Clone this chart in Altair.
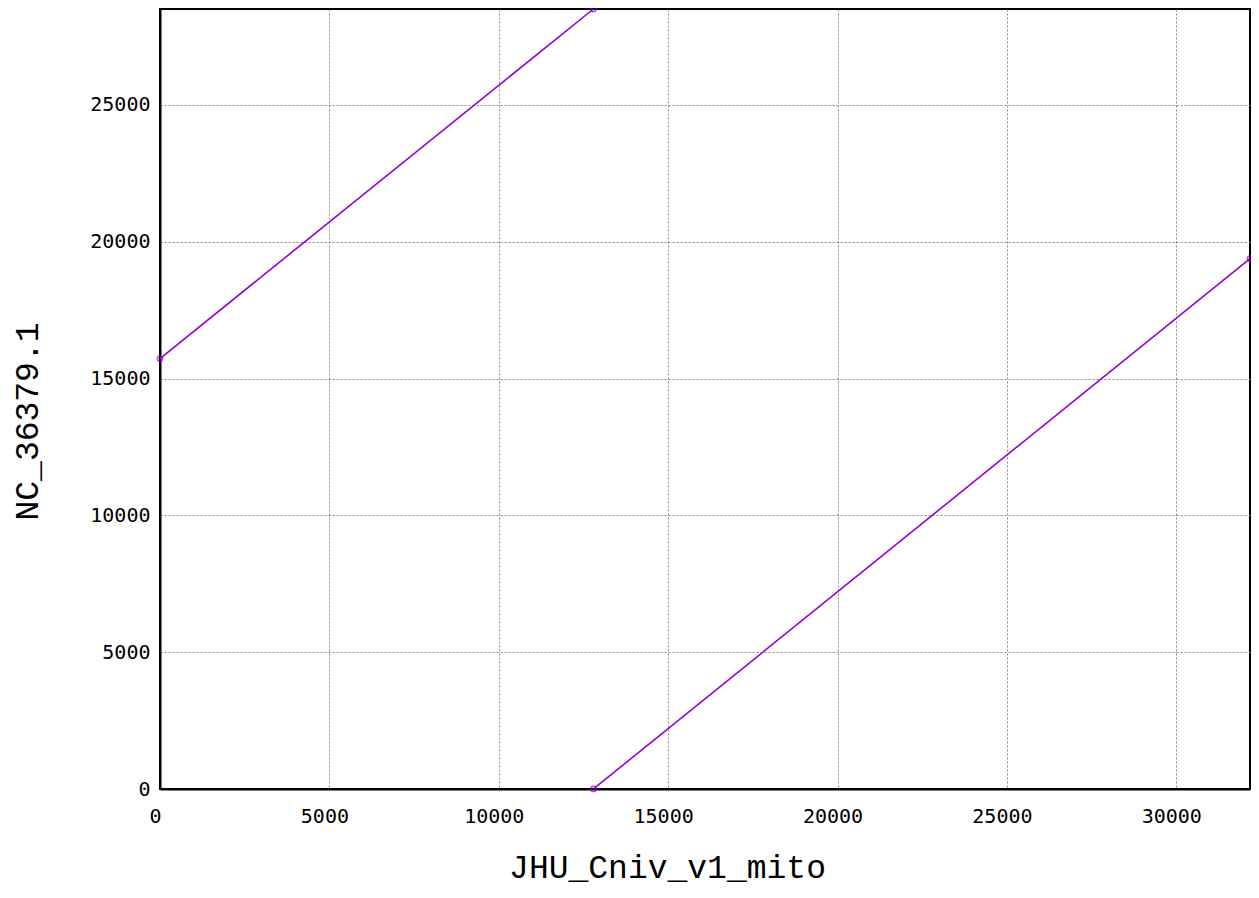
import altair as alt
import pandas as pd

# alignment segments (reference position vs query position)
segment = ["a", "a", "b", "b"]
ref_pos = [1, 12794, 12794, 32176]
qry_pos = [15730, 28504, 1, 19380]

x_max = 32176
y_max = 28504
x_ticks = [0, 5000, 10000, 15000, 20000, 25000, 30000]
y_ticks = [0, 5000, 10000, 15000, 20000, 25000]

df = pd.DataFrame({"segment": segment, "ref": ref_pos, "qry": qry_pos})

color = "#9400D3"

x_enc = alt.X(
    "ref:Q",
    scale=alt.Scale(domain=[0, x_max], nice=False, zero=False),
    axis=alt.Axis(
        title="JHU_Cniv_v1_mito",
        values=x_ticks,
        format="d",
        ticks=False,
        labelPadding=17,
        labelOffset=-5,
        labelFont="DejaVu Sans Mono",
        labelFontSize=20,
        labelColor="#000000",
        titleFont="Liberation Mono",
        titleFontSize=33,
        titleFontWeight="normal",
        titleColor="#000000",
        titleX=507,
        titleY=88,
        titleAlign="center",
        titleBaseline="alphabetic",
        domainColor="#000000",
        domainWidth=2,
        gridColor="#888888",
        gridDash=[2, 2],
        gridWidth=1,
        labelFlush=False,
    ),
)
y_enc = alt.Y(
    "qry:Q",
    scale=alt.Scale(domain=[0, y_max], nice=False, zero=False),
    axis=alt.Axis(
        title="NC_36379.1",
        values=y_ticks,
        format="d",
        ticks=False,
        labelPadding=10,
        labelFont="DejaVu Sans Mono",
        labelFontSize=20,
        labelColor="#000000",
        titleFont="Liberation Mono",
        titleFontSize=33,
        titleFontWeight="normal",
        titleColor="#000000",
        titleX=-123,
        titleY=412,
        titleAngle=-90,
        titleAlign="center",
        titleBaseline="alphabetic",
        domainColor="#000000",
        domainWidth=2,
        gridColor="#888888",
        gridDash=[2, 2],
        gridWidth=1,
        labelFlush=False,
    ),
)

base = alt.Chart(df)
lines = base.mark_line(color=color, strokeWidth=1.6).encode(
    x=x_enc, y=y_enc, detail="segment:N"
)
points = base.mark_point(
    color=color, filled=False, size=28, strokeWidth=1.5
).encode(x="ref:Q", y="qry:Q")

chart = (
    alt.layer(lines, points)
    .properties(
        width=1090,
        height=780,
        background="#ffffff",
        autosize=alt.AutoSizeParams(type="none"),
        padding={"left": 152, "top": 1, "right": 1, "bottom": 97},
    )
    .configure_view(stroke="#000000", strokeWidth=2)
)

chart.save("out.html", embed_options={"renderer": "svg", "actions": False})
